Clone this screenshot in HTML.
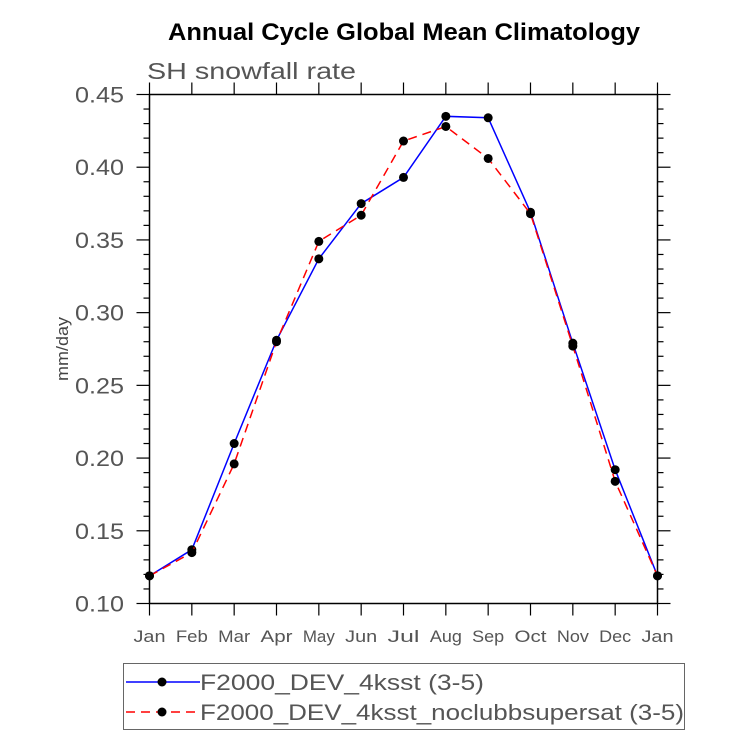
<!DOCTYPE html>
<html><head><meta charset="utf-8"><style>
body{margin:0;background:#fff;}
svg text{font-family:"Liberation Sans",sans-serif;}
</style></head><body>
<svg id="chart" width="733" height="737" xmlns="http://www.w3.org/2000/svg">
<text x="168" y="40" font-size="24" font-weight="bold" fill="#000" textLength="472" lengthAdjust="spacingAndGlyphs">Annual Cycle Global Mean Climatology</text>
<text x="147" y="79" font-size="23" fill="#555" textLength="209" lengthAdjust="spacingAndGlyphs">SH snowfall rate</text>
<text transform="translate(68,349) rotate(-90)" text-anchor="middle" font-size="17" fill="#444" textLength="64" lengthAdjust="spacingAndGlyphs">mm/day</text>
<g id="axes"></g>
<g id="series"></g>
<g id="legend">
<rect x="123.5" y="663.5" width="561" height="66" fill="none" stroke="#666" stroke-width="1"/>
<g>
<line x1="126" y1="682" x2="200" y2="682" stroke="#0000ff" stroke-width="1.5"/>
<circle cx="162" cy="682" r="4.5" fill="#000"/>
<text x="200" y="690" font-size="22" fill="#555" textLength="284" lengthAdjust="spacingAndGlyphs">F2000_DEV_4ksst (3-5)</text>
</g>
<g>
<line x1="126" y1="712" x2="200" y2="712" stroke="#ff0000" stroke-width="1.5" stroke-dasharray="9,6"/>
<circle cx="162" cy="712" r="4.5" fill="#000"/>
<text x="200" y="720" font-size="22" fill="#555" textLength="484" lengthAdjust="spacingAndGlyphs">F2000_DEV_4ksst_noclubbsupersat (3-5)</text>
</g>
</g>
</svg>
<script>
const months=["Jan","Feb","Mar","Apr","May","Jun","Jul","Aug","Sep","Oct","Nov","Dec","Jan"];
const blueValues=[0.119,0.137,0.210,0.281,0.337,0.375,0.393,0.435,0.434,0.369,0.279,0.192,0.119];
const redValues=[0.119,0.135,0.196,0.280,0.349,0.367,0.418,0.428,0.406,0.368,0.277,0.184,0.119];
const yTicks=["0.10","0.15","0.20","0.25","0.30","0.35","0.40","0.45"];
const NS="http://www.w3.org/2000/svg";
const X0=149.5,X1=657.5,Y0=603.5,Y1=94.5,VMIN=0.10,VMAX=0.45;
const xs=i=>X0+i*(X1-X0)/(months.length-1);
const ys=v=>Y0-(v-VMIN)/(VMAX-VMIN)*(Y0-Y1);
function mk(tag,attrs,parent){const e=document.createElementNS(NS,tag);for(const k in attrs)e.setAttribute(k,attrs[k]);parent.appendChild(e);return e;}
const ax=document.getElementById('axes');
const frame=mk('rect',{x:X0,y:Y1,width:X1-X0,height:Y0-Y1,fill:'none',stroke:'#000','stroke-width':1.5},ax);


for(let k=0;k<=35;k++){
  const v=VMIN+k*0.01,y=ys(v),major=k%5===0,len=major?13:6;
  mk('line',{x1:X0-len,y1:y,x2:X0,y2:y,stroke:'#000','stroke-width':1.2},ax);
  mk('line',{x1:X1,y1:y,x2:X1+len,y2:y,stroke:'#000','stroke-width':1.2},ax);
}
yTicks.forEach(t=>{
  const tx=mk('text',{x:124,y:ys(parseFloat(t))+8,'text-anchor':'end','font-size':22,fill:'#555',textLength:49,lengthAdjust:'spacingAndGlyphs'},ax);
  tx.textContent=t;
  
  
});
months.forEach((m,i)=>{
  const x=xs(i);
  mk('line',{x1:x,y1:Y0,x2:x,y2:Y0+12,stroke:'#000','stroke-width':1.2},ax);
  mk('line',{x1:x,y1:Y1,x2:x,y2:Y1-12,stroke:'#000','stroke-width':1.2},ax);
  const tx=mk('text',{x:x,y:642,'text-anchor':'middle','font-size':17,fill:'#555',textLength:32,lengthAdjust:'spacingAndGlyphs'},ax);
  tx.textContent=m;
  
  
});
const sg=document.getElementById('series');
function drawSeries(vals,color,dash,name){
  const g=mk('g',{},sg);
  
  
  const pts=vals.map((v,i)=>xs(i)+','+ys(v)).join(' ');
  const attrs={points:pts,fill:'none',stroke:color,'stroke-width':1.5};
  if(dash)attrs['stroke-dasharray']=dash;
  mk('polyline',attrs,g);
  vals.forEach((v,i)=>{
    const c=mk('circle',{cx:xs(i),cy:ys(v),r:4.5,fill:'#000'},g);
    
    
  });
}
drawSeries(blueValues,'#0000ff',null,'series-4ksst');
drawSeries(redValues,'#ff0000','9,6','series-noclubbsupersat');
</script>
</body></html>
